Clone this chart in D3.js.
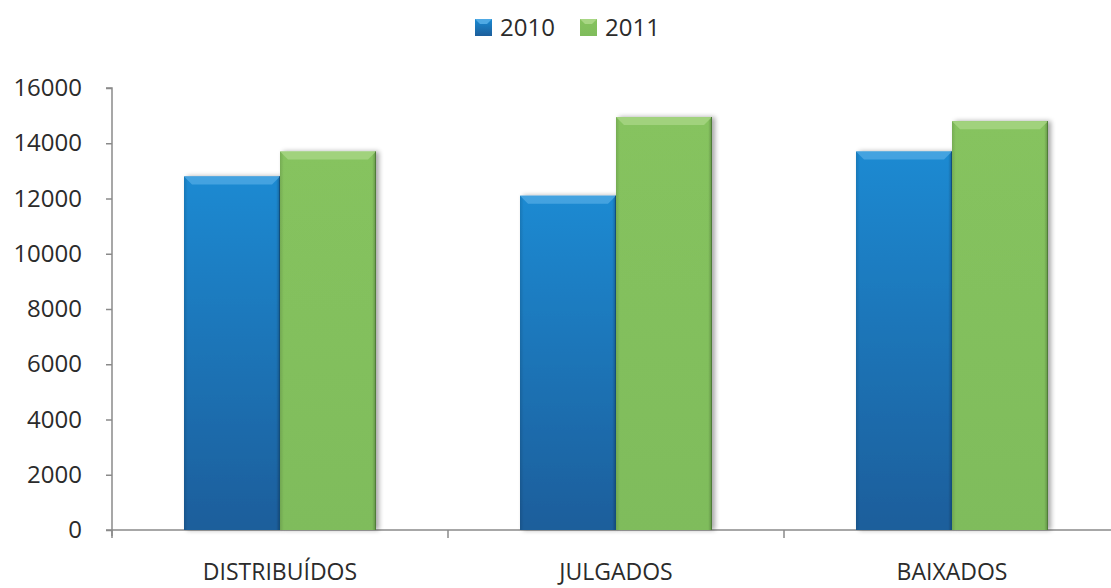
<!DOCTYPE html>
<meta charset="utf-8">
<script src="https://d3js.org/d3.v7.min.js"></script>
<style>
	body{
		margin:0;
		background:#fff;
		font-family:'Open Sans', sans-serif;
	}
</style>
<div id="chart"></div>
<script>

	var categories = ["DISTRIBUÍDOS","JULGADOS","BAIXADOS"]
	var seriesNames = ["2010","2011"]
	var values2010 = [12800,12100,13700]
	var values2011 = [13700,14950,14800]
	var yTicks = [0,2000,4000,6000,8000,10000,12000,14000,16000]

	var w = 1111
	var h = 588
	var marginLeft = 112
	var plotTop = 88
	var plotBottom = 530

	var svg = d3.select("#chart").append("svg").attr("width",w).attr("height",h)
	var defs = svg.append("defs")

	var palette = {
		"2010":{top:"#1a8ad2",bottom:"#1c5e9b",light:"#4fa9e4",edge:"#12507f"},
		"2011":{top:"#86c35e",bottom:"#7fbc5c",light:"#a8d684",edge:"#4f7d38"}
	}
	for(var s in palette){
		var g = defs.append("linearGradient").attr("id","grad"+s).attr("x1",0).attr("x2",0).attr("y1",0).attr("y2",1)
		g.append("stop").attr("offset","0%").attr("stop-color",palette[s].top)
		g.append("stop").attr("offset","100%").attr("stop-color",palette[s].bottom)
		var sg = defs.append("linearGradient").attr("id","side"+s)
		sg.append("stop").attr("offset","0%").attr("stop-color","#000").attr("stop-opacity",0.12)
		sg.append("stop").attr("offset","4%").attr("stop-color","#000").attr("stop-opacity",0)
		sg.append("stop").attr("offset","96%").attr("stop-color","#000").attr("stop-opacity",0)
		sg.append("stop").attr("offset","100%").attr("stop-color","#000").attr("stop-opacity",0.25)
	}
	var shadow = defs.append("filter").attr("id","shadow").attr("x","-10%").attr("width","130%")
	shadow.append("feGaussianBlur").attr("in","SourceAlpha").attr("stdDeviation",2.5)
	shadow.append("feOffset").attr("dx",3).attr("dy",0).attr("result","b")
	shadow.append("feComponentTransfer").append("feFuncA").attr("type","linear").attr("slope",0.35)
	var merge = shadow.append("feMerge")
	merge.append("feMergeNode")
	merge.append("feMergeNode").attr("in","SourceGraphic")

	var y = d3.scaleLinear().domain([0,16000]).range([plotBottom,plotTop])
	var x0 = d3.scaleBand().domain(categories).range([marginLeft,marginLeft+336*3]).padding(0)
	var x1 = d3.scaleBand().domain(seriesNames).range([0,x0.bandwidth()]).paddingOuter(0.75).paddingInner(0)

	// axes
	var yAxis = svg.append("g").attr("transform","translate("+marginLeft+",0)")
		.call(d3.axisLeft(y).tickValues(yTicks).tickSize(6).tickPadding(10).tickFormat(d3.format("d")))
	yAxis.select(".domain").attr("d","M-6,"+plotTop+"H0V"+(plotBottom+6))
	yAxis.selectAll("line,path").attr("stroke","#8a8a8a").attr("stroke-width",1.5)
	yAxis.selectAll("text").attr("fill","#2b2b2b").style("font-size","24px").style("font-family","'Open Sans', sans-serif").attr("dx",-14)

	var xAxis = svg.append("g").attr("transform","translate(0,"+plotBottom+")")
	xAxis.append("line").attr("x1",marginLeft-6).attr("x2",w).attr("y1",0).attr("y2",0).attr("stroke","#8a8a8a").attr("stroke-width",1.5)
	xAxis.selectAll(".ctick").data(categories.concat(["end"])).join("line")
		.attr("x1",function(d,i){return marginLeft+i*x0.bandwidth()})
		.attr("x2",function(d,i){return marginLeft+i*x0.bandwidth()})
		.attr("y1",0).attr("y2",8).attr("stroke","#8a8a8a").attr("stroke-width",1.5)
	xAxis.selectAll("text").data(categories).join("text")
		.attr("x",function(d){return x0(d)+x0.bandwidth()/2})
		.attr("y",50)
		.attr("text-anchor","middle")
		.attr("fill","#2b2b2b")
		.style("font-size","23px")
		.text(function(d){return d})

	// bars
	var rows = categories.map(function(c,i){
		return {cat:c, vals:[{s:"2010",v:values2010[i]},{s:"2011",v:values2011[i]}]}
	})
	var groups = svg.append("g").selectAll("g").data(rows).join("g")
		.attr("transform",function(d){return "translate("+x0(d.cat)+",0)"})
	var bars = groups.selectAll("g").data(function(d){return d.vals}).join("g")
	bars.append("rect")
		.attr("x",function(d){return x1(d.s)})
		.attr("y",function(d){return y(d.v)})
		.attr("width",x1.bandwidth())
		.attr("height",function(d){return plotBottom-y(d.v)})
		.attr("fill",function(d){return "url(#grad"+d.s+")"})
		.attr("filter","url(#shadow)")
	bars.append("rect")
		.attr("x",function(d){return x1(d.s)})
		.attr("y",function(d){return y(d.v)})
		.attr("width",x1.bandwidth())
		.attr("height",function(d){return plotBottom-y(d.v)})
		.attr("fill",function(d){return "url(#side"+d.s+")"})
	// top bevel
	bars.append("path")
		.attr("d",function(d){
			var bx = x1(d.s), by = y(d.v), bw = x1.bandwidth()
			return "M"+bx+","+by+"H"+(bx+bw)+"L"+(bx+bw-8)+","+(by+8)+"H"+(bx+8)+"Z"
		})
		.attr("fill",function(d){return palette[d.s].light})
		.attr("opacity",0.8)
	bars.append("line")
		.attr("x1",function(d){return x1(d.s)+x1.bandwidth()-0.5})
		.attr("x2",function(d){return x1(d.s)+x1.bandwidth()-0.5})
		.attr("y1",function(d){return y(d.v)})
		.attr("y2",plotBottom)
		.attr("stroke",function(d){return palette[d.s].edge})
		.attr("stroke-width",1)

	// legend
	var legend = svg.append("g")
	var lx = [475,580]
	seriesNames.forEach(function(s,i){
		legend.append("rect").attr("x",lx[i]).attr("y",19).attr("width",17).attr("height",17)
			.attr("fill","url(#grad"+s+")")
		legend.append("path")
			.attr("d","M"+lx[i]+",19H"+(lx[i]+17)+"L"+(lx[i]+12)+",24H"+(lx[i]+5)+"Z")
			.attr("fill",palette[s].light)
		legend.append("text").attr("x",lx[i]+25).attr("y",36).text(s)
			.attr("fill","#2b2b2b").style("font-size","24px")
	})

</script>
